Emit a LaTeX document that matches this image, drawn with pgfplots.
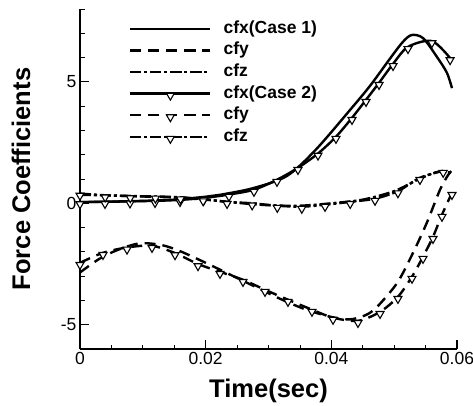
\documentclass[border=0pt]{standalone}
\usepackage{fontspec}
\setmainfont{Liberation Sans}
\usepackage{pgfplots}
\pgfplotsset{compat=1.18}
\begin{document}
\begin{tikzpicture}
\begin{axis}[
  at={(0,0)}, anchor=south west,
  scale only axis, width=377pt, height=340pt,
  xmin=0, xmax=0.06, ymin=-6, ymax=8,
  axis lines*=left,
  axis line style={line width=1.6pt},
  xtick={0,0.02,0.04,0.06}, xticklabels={0,0.02,0.04,0.06},
  minor xtick={0.005,0.01,0.015,0.025,0.03,0.035,0.045,0.05,0.055},
  ytick={-5,0,5}, yticklabels={-5,0,5},
  minor ytick={-6,-4,-3,-2,-1,1,2,3,4,6,7,8},
  scaled x ticks=false,
  tick align=inside,
  major tick length=9pt, minor tick length=4.5pt,
  major tick style={line width=1.2pt, black},
  minor tick style={line width=0.8pt, black},
  tick label style={font=\fontsize{17.5}{17.5}\selectfont},
  /pgf/number format/assume math mode=true,
  xlabel={Time(sec)}, ylabel={Force Coefficients},
  every axis x label/.style={at={(axis description cs:0.5,0)}, anchor=center, yshift=-42pt, font=\bfseries\fontsize{25.5}{25.5}\selectfont},
  every axis y label/.style={at={(axis description cs:0,0.5)}, anchor=center, xshift=-59pt, rotate=90, font=\bfseries\fontsize{25.5}{25.5}\selectfont},
  legend style={draw=none, fill=none, at={(0.122,0.9735)}, anchor=north west,
    font=\bfseries\fontsize{17.5}{17.5}\selectfont,
    nodes={inner sep=0pt, text height=13pt, text depth=4pt},
    row sep=4.6pt, column sep=12pt},
  legend cell align=left,
  legend image code/.code={\draw[mark repeat=2,mark phase=2,#1] plot coordinates {(0pt,0pt) (40pt,0pt) (80pt,0pt)};},
  every axis plot/.append style={line width=2.4pt, black},
  c2/.style={mark=triangle*, mark size=4.6pt, mark options={yshift=-2pt, rotate=180, fill=white, solid, line width=1.1pt}},
  dsh/.style={dash pattern=on 11pt off 7pt},
  dshdot/.style={dash pattern=on 11pt off 3pt on 3pt off 3pt},
]
% Case 1 cfx
\addplot[smooth, no marks] coordinates {
(0,0.05) (0.005,0.07) (0.01,0.1) (0.015,0.15) (0.02,0.27) (0.0223,0.35) (0.0275,0.62)
(0.0329,1.12) (0.0375,2.2) (0.043,3.85) (0.0462,4.85) (0.0494,5.98) (0.0514,6.65)
(0.0528,6.93) (0.0546,6.8) (0.0568,6.03) (0.0584,5.37) (0.0592,4.74)};
\addlegendentry{cfx(Case 1)}
% Case 1 cfy
\addplot[smooth, no marks, dsh] coordinates {
(0,-2.85) (0.003,-2.3) (0.006,-1.92) (0.0095,-1.65) (0.013,-1.72) (0.016,-1.98)
(0.02,-2.45) (0.024,-2.95) (0.028,-3.45) (0.032,-3.95) (0.036,-4.38) (0.04,-4.68)
(0.043,-4.78) (0.0455,-4.6) (0.0473,-4.26) (0.0505,-3.27) (0.053,-2.04) (0.0552,-0.8)
(0.0573,0.56) (0.0586,1.17) (0.0592,1.35)};
\addlegendentry{cfy}
% Case 1 cfz
\addplot[smooth, no marks, dshdot] coordinates {
(0,0.35) (0.005,0.32) (0.01,0.28) (0.015,0.24) (0.02,0.15) (0.025,0.02) (0.03,-0.08)
(0.035,-0.1) (0.04,0.0) (0.045,0.15) (0.05,0.5) (0.054,1.0) (0.057,1.3) (0.0592,1.25)};
\addlegendentry{cfz}
% Case 2 cfx
\addplot[smooth, c2] coordinates {
(0,0.05) (0.00398,0.06) (0.00796,0.08) (0.01194,0.1) (0.01592,0.14) (0.01974,0.22)
(0.02371,0.36) (0.02769,0.56) (0.03135,0.97) (0.03469,1.46) (0.03788,2.05) (0.04074,2.74)
(0.04329,3.52) (0.04552,4.26) (0.04759,4.96) (0.04982,5.74) (0.0522,6.44) (0.0560,6.68)
(0.0589,5.98)};
\addlegendentry{cfx(Case 2)}
% Case 2 cfy
\addplot[smooth, c2, dsh] coordinates {
(0,-2.45) (0.00366,-2.04) (0.00748,-1.82) (0.01146,-1.75) (0.01512,-2.05) (0.01878,-2.5)
(0.02228,-2.82) (0.02594,-3.15) (0.02944,-3.56) (0.0331,-3.97) (0.03692,-4.38)
(0.04027,-4.71) (0.04424,-4.84) (0.04775,-4.47) (0.0506,-3.85) (0.05284,-3.02)
(0.05459,-2.2) (0.05618,-1.38) (0.05761,-0.47) (0.0592,0.43)};
\addlegendentry{cfy}
% Case 2 cfz
\addplot[smooth, c2, dshdot] coordinates {
(0,0.4) (0.004,0.33) (0.008,0.3) (0.012,0.28) (0.016,0.25) (0.0196,0.17) (0.0234,0.06)
(0.0274,0.0) (0.0314,-0.1) (0.0353,-0.14) (0.039,-0.06) (0.043,0.06) (0.04695,0.19)
(0.0506,0.5) (0.0541,1.05) (0.0578,1.34)};
\addlegendentry{cfz}
\end{axis}
\pgfresetboundingbox
\path[use as bounding box] (-80pt,-56pt) rectangle (393pt,349pt);
\end{tikzpicture}
\end{document}
